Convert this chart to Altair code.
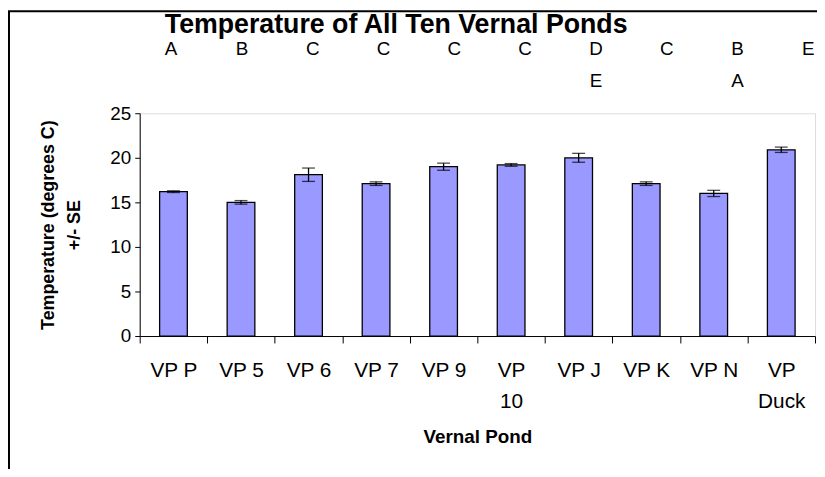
import altair as alt
import pandas as pd

ponds = ["VP P", "VP 5", "VP 6", "VP 7", "VP 9", "VP 10", "VP J", "VP K", "VP N", "VP Duck"]
temps = [16.2, 15.0, 18.1, 17.1, 19.0, 19.2, 20.0, 17.1, 16.0, 20.9]
se = [0.1, 0.2, 0.75, 0.2, 0.4, 0.15, 0.5, 0.2, 0.35, 0.3]
letters_top = ["A", "B", "C", "C", "C", "C", "D", "C", "B", "E"]
letters_bottom = ["", "", "", "", "", "", "E", "", "A", ""]
y_ticks = [0, 5, 10, 15, 20, 25]
chart_title = ["Temperature of All Ten Vernal Ponds"]

FONT = "Liberation Sans"

df = pd.DataFrame({"pond": ponds, "temp": temps, "se": se})
df["lo"] = df["temp"] - df["se"]
df["hi"] = df["temp"] + df["se"]
lt = pd.DataFrame({"pond": ponds, "top": letters_top, "bottom": letters_bottom})

x_axis = alt.Axis(
    labelExpr="datum.label == 'VP 10' || datum.label == 'VP Duck' ? split(datum.label, ' ') : datum.label",
    labelAngle=0, labelFont=FONT, labelFontSize=21, labelColor="black",
    labelLineHeight=31, labelPadding=17, labelBaseline="top",
    tickBand="extent", tickSize=7, tickColor="black", domainColor="black",
    titleFont=FONT, titleFontSize=19, titleFontWeight="bold", titleColor="black",
    titlePadding=17, grid=False,
)
y_axis = alt.Axis(
    values=y_ticks, labelFont=FONT, labelFontSize=19, labelColor="black", labelPadding=4,
    tickSize=5, tickColor="black", domainColor="black", grid=False,
    title=["Temperature (degrees C)", "+/- SE"], titleFont=FONT, titleFontSize=18,
    titleFontWeight="bold", titleColor="black", titleLineHeight=26, titlePadding=27,
)

x_bar = alt.X("pond:N", sort=ponds, scale=alt.Scale(paddingInner=0, paddingOuter=0),
              axis=x_axis, title="Vernal Pond")
x_plain = alt.X("pond:N", sort=ponds)
y_scale = alt.Scale(domain=[0, 25], nice=False)

base = alt.Chart(df)
bars = base.mark_bar(width={"band": 0.41}, color="#9999FF", stroke="black", strokeWidth=1.3).encode(
    x=x_bar, y=alt.Y("temp:Q", scale=y_scale, axis=y_axis)
)
err = base.mark_rule(color="black", strokeWidth=1.3).encode(x=x_plain, y="lo:Q", y2="hi:Q")
cap_lo = base.mark_tick(color="black", size=13, thickness=1.3).encode(x=x_plain, y="lo:Q")
cap_hi = base.mark_tick(color="black", size=13, thickness=1.3).encode(x=x_plain, y="hi:Q")

frame = alt.Chart(pd.DataFrame({"k": [0]})).mark_rect(
    fillOpacity=0, stroke="black", strokeWidth=2
).encode(x=alt.value(-132), x2=alt.value(800), y=alt.value(-103), y2=alt.value(500))

title_mark = alt.Chart(pd.DataFrame({"t": chart_title})).mark_text(
    font=FONT, fontSize=27, fontWeight="bold", color="black", baseline="middle", align="center"
).encode(x=alt.value(259), y=alt.value(-89), text="t:N")

plot = alt.layer(frame, bars, err, cap_lo, cap_hi, title_mark)

lx = alt.X("pond:N", sort=ponds, scale=alt.Scale(range=[-4, 711], padding=0.5), axis=None)
txt_top = alt.Chart(lt).mark_text(font=FONT, fontSize=19, color="black", baseline="middle").encode(
    x=lx, y=alt.value(-65), text="top:N")
txt_bot = alt.Chart(lt).mark_text(font=FONT, fontSize=19, color="black", baseline="middle").encode(
    x=lx, y=alt.value(-32), text="bottom:N")

chart = alt.layer(plot, txt_top, txt_bot).resolve_scale(x="independent").properties(
    width=682, height=225,
    padding={"left": 133, "top": 104, "right": 2, "bottom": 132},
    autosize=alt.AutoSizeParams(type="none"),
).configure_view(stroke=None).configure(background="white")

chart.save("out.html", embed_options={"renderer": "svg", "actions": False})
